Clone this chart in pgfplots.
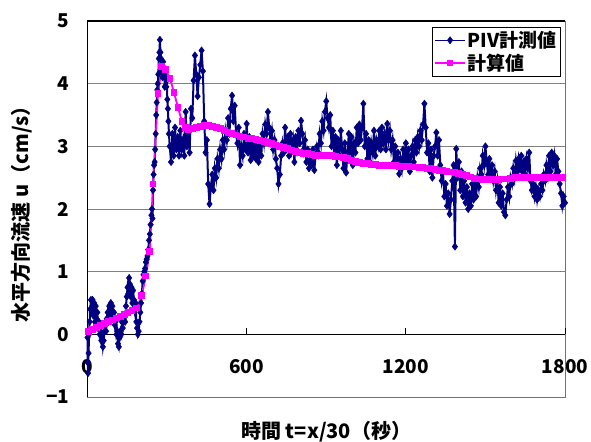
\documentclass[border=0pt]{standalone}
\usepackage{fontspec}
\setmainfont{Noto Sans CJK JP}
\usepackage{pgfplots}
\pgfplotsset{compat=1.18}
\definecolor{piv}{RGB}{0,0,128}
\definecolor{calc}{RGB}{255,0,255}
\pgfplotstableread{
t u
0 -0.05
1 -0.45
2 -0.62
4 -0.30
6 0.00
8 0.20
10 0.40
13 0.55
16 0.35
19 0.55
22 0.30
25 0.50
28 0.20
31 0.45
34 0.25
37 0.35
40 0.10
43 0.20
46 0.00
49 0.05
52 -0.10
55 -0.05
58 -0.20
61 -0.10
64 0.05
67 0.15
70 0.05
73 0.25
76 0.35
79 0.20
82 0.45
85 0.35
88 0.50
91 0.30
94 0.45
97 0.25
100 0.35
103 0.15
106 0.20
109 0.00
112 0.05
115 -0.15
118 -0.20
121 -0.05
124 0.05
127 0.00
130 0.20
133 0.10
136 0.25
139 0.30
142 0.20
145 0.45
148 0.60
151 0.75
154 0.65
157 0.90
160 0.80
163 0.60
166 0.75
169 0.50
172 0.70
175 0.55
178 0.40
181 0.50
184 0.20
187 0.10
190 0.00
193 0.05
196 0.20
199 0.35
202 0.50
205 0.65
208 0.85
211 0.95
214 1.00
217 1.05
220 1.15
223 1.20
226 1.25
229 1.35
232 1.50
235 1.60
238 1.75
241 1.90
243 2.00
245 1.85
247 2.30
249 2.55
251 2.70
253 2.75
255 2.95
257 3.20
259 3.50
261 3.70
263 3.90
265 4.00
267 4.15
269 4.40
271 4.50
273 4.70
275 4.50
277 4.40
279 4.20
281 4.30
283 4.10
285 4.35
287 4.15
289 4.25
291 3.95
293 4.10
295 4.20
297 3.95
299 4.05
301 3.75
303 3.60
305 3.40
307 3.20
310 3.00
315 2.75
320 3.20
325 2.85
330 3.30
335 2.95
340 3.15
345 2.85
350 3.25
355 2.95
360 3.10
365 2.85
370 3.55
375 3.00
380 3.20
385 2.90
390 3.60
395 3.45
400 4.05
405 4.45
410 4.15
415 3.80
420 4.10
425 4.30
430 4.53
435 4.20
440 3.40
445 2.90
450 3.10
455 2.40
460 2.08
465 2.35
470 2.55
475 2.30
480 2.65
485 2.50
490 2.80
495 2.65
500 2.95
505 2.80
510 3.10
515 2.95
520 3.25
525 3.10
530 3.45
535 3.20
540 3.60
545 3.81
550 3.40
555 3.65
560 3.20
565 3.05
570 3.30
575 2.70
580 3.00
585 2.85
590 3.20
595 2.95
600 3.36
605 2.90
610 3.15
615 2.78
620 3.05
625 2.85
630 3.10
635 2.80
640 3.00
645 2.75
650 3.05
655 2.85
660 3.20
665 3.05
670 3.35
675 3.20
680 3.55
685 3.30
690 3.10
695 3.25
700 2.95
705 3.10
710 2.80
715 2.65
720 2.40
725 2.55
730 2.85
735 3.05
740 2.90
745 3.30
750 2.95
755 3.15
760 2.85
765 3.20
770 2.95
775 3.10
780 2.75
785 3.15
790 2.90
795 3.25
800 3.05
805 3.41
810 3.20
815 2.95
820 3.10
825 2.75
830 2.95
835 2.65
840 2.90
845 2.70
850 2.95
855 2.62
860 2.85
865 3.00
870 2.90
875 3.20
880 3.05
885 3.40
890 3.25
895 3.55
900 3.72
905 3.45
910 3.30
915 3.50
920 3.00
925 3.25
930 2.85
935 3.15
940 2.70
945 3.10
950 2.85
955 3.25
960 2.95
965 2.65
970 3.05
975 2.58
980 2.90
985 3.20
990 2.80
995 3.15
1000 2.70
1005 3.05
1010 2.90
1015 3.30
1020 3.05
1025 3.35
1030 3.10
1035 3.30
1040 3.68
1045 3.00
1050 3.20
1055 2.80
1060 3.10
1065 2.75
1070 3.05
1075 2.90
1080 3.25
1085 2.85
1090 3.10
1095 3.00
1100 3.25
1105 2.95
1110 3.30
1115 3.05
1120 3.20
1125 2.95
1130 3.36
1135 3.10
1140 3.25
1145 2.95
1150 3.10
1155 2.75
1160 3.00
1165 2.70
1170 2.90
1175 2.56
1180 2.80
1185 2.65
1190 2.95
1195 2.75
1200 3.05
1205 2.70
1210 2.95
1215 2.60
1220 2.85
1225 3.00
1230 2.75
1235 3.10
1240 2.90
1245 3.15
1250 3.00
1255 3.25
1260 3.10
1265 3.35
1270 3.68
1275 3.30
1280 2.90
1285 3.05
1290 2.60
1295 2.95
1300 2.50
1305 2.85
1310 3.00
1315 3.22
1320 2.85
1325 3.10
1330 2.70
1335 2.45
1340 2.60
1345 2.20
1350 2.40
1355 2.05
1360 2.25
1365 1.92
1370 2.15
1375 2.45
1380 2.70
1385 1.40
1390 2.96
1395 2.50
1400 2.75
1405 2.30
1410 2.60
1415 2.20
1420 2.45
1425 2.10
1430 2.35
1435 2.00
1440 2.25
1445 2.05
1450 2.40
1455 2.15
1460 2.45
1465 2.20
1470 2.50
1475 2.35
1480 2.65
1485 2.55
1490 2.85
1495 2.70
1500 3.00
1505 2.75
1510 2.55
1515 2.80
1520 2.50
1525 2.70
1530 2.45
1535 2.60
1540 2.30
1545 2.45
1550 2.10
1555 2.35
1560 2.05
1565 2.25
1570 1.95
1575 1.90
1580 2.15
1585 2.35
1590 2.20
1595 2.50
1600 2.40
1605 2.65
1610 2.50
1615 2.77
1620 2.60
1625 2.80
1630 2.65
1635 2.85
1640 2.60
1645 2.75
1650 2.55
1655 2.80
1660 2.65
1665 2.90
1670 2.45
1675 2.30
1680 2.40
1685 2.20
1690 2.35
1695 2.15
1700 2.30
1705 2.20
1710 2.40
1715 2.30
1720 2.55
1725 2.45
1730 2.70
1735 2.55
1740 2.85
1745 2.60
1750 2.90
1755 2.70
1760 2.85
1765 2.55
1770 2.80
1775 2.60
1780 2.40
1785 2.25
1790 2.05
1795 2.20
1800 2.10
}\pivdata
\pgfplotstableread{
t u
3 0.05
18 0.08
33 0.11
48 0.14
63 0.17
78 0.20
93 0.23
108 0.26
123 0.29
138 0.32
153 0.35
168 0.38
185 0.42
205 0.62
220 0.93
235 1.32
247 2.40
266 3.84
280 4.28
295 4.22
311 4.08
326 3.86
341 3.62
356 3.40
368 3.30
380 3.27
395 3.28
410 3.30
425 3.32
440 3.33
455 3.33
470 3.32
485 3.30
500 3.28
515 3.25
530 3.22
545 3.20
560 3.18
575 3.16
590 3.15
605 3.13
620 3.12
635 3.11
650 3.09
665 3.08
680 3.06
695 3.04
710 3.02
725 3.00
740 2.98
755 2.96
770 2.94
785 2.92
800 2.90
815 2.89
830 2.88
845 2.87
860 2.86
875 2.86
890 2.86
905 2.85
920 2.85
935 2.84
950 2.83
965 2.82
980 2.80
995 2.78
1010 2.76
1025 2.74
1040 2.73
1055 2.72
1070 2.71
1085 2.71
1100 2.70
1115 2.70
1130 2.69
1145 2.69
1160 2.69
1175 2.68
1190 2.68
1205 2.68
1220 2.67
1235 2.67
1250 2.66
1265 2.66
1280 2.65
1295 2.64
1310 2.63
1325 2.62
1340 2.61
1355 2.60
1370 2.59
1385 2.58
1400 2.57
1415 2.55
1430 2.53
1445 2.51
1460 2.49
1475 2.48
1490 2.47
1505 2.47
1520 2.47
1535 2.47
1550 2.47
1565 2.48
1580 2.48
1595 2.49
1610 2.50
1625 2.50
1640 2.50
1655 2.50
1670 2.50
1685 2.50
1700 2.50
1715 2.50
1730 2.50
1745 2.50
1760 2.50
1775 2.50
1790 2.50
}\calcdata
\begin{document}
\begin{tikzpicture}
\useasboundingbox (-87.5bp,-45bp) rectangle (503.5bp,397bp);
\begin{axis}[
  at={(0,0)}, anchor=south west,
  scale only axis, width=477.5bp, height=376bp,
  xmin=0, xmax=1800, ymin=-1, ymax=5,
  xtick={0,600,1200,1800}, xticklabels={0,600,1200,1800},
  ytick={-1,0,1,2,3,4,5}, yticklabels={−1,0,1,2,3,4,5},
  major tick length=0pt,
  tick label style={font=\fontsize{19bp}{22bp}\selectfont\bfseries},
  xticklabel style={anchor=center, yshift=30bp},
  yticklabel style={anchor=east, xshift=-14.5bp},
  ymajorgrids, grid style={black!50, line width=0.8bp},
  axis line style={draw=none},
  clip=false,
  xlabel={時間 t=x/30（秒）},
  ylabel={水平方向流速 u（cm/s）},
  label style={font=\fontsize{20bp}{24bp}\selectfont\bfseries},
  x label style={at={(axis description cs:0.5,-0.093)}, anchor=center},
  y label style={at={(axis description cs:-0.137,0.5)}, anchor=center},
  legend style={at={(axis description cs:0.9916,0.984)}, anchor=north east,
    draw=black, line width=0.8bp, fill=white,
    font=\fontsize{19bp}{22bp}\selectfont\bfseries,
    inner sep=2bp, row sep=1bp},
  legend cell align=left,
  legend image code/.code={\draw[line width=1.2bp, mark repeat=2,mark phase=2] plot coordinates {(0bp,0bp) (15bp,0bp) (30bp,0bp)};},
]
\draw[black!55, line width=1bp] (rel axis cs:1,1) -- (rel axis cs:1,0) -- (rel axis cs:0,0);
\draw[black, line width=1.2bp] (rel axis cs:0,0) -- (rel axis cs:0,1) -- (rel axis cs:1,1);
\draw[black, line width=1.2bp] (axis cs:0,0) -- (axis cs:1800,0);
\draw[black, line width=1bp] (axis cs:600,0) -- (axis cs:600,0.1);
\draw[black, line width=1bp] (axis cs:1200,0) -- (axis cs:1200,0.1);
\draw[black, line width=1bp] (axis cs:1800,0) -- (axis cs:1800,0.1);
\addplot[color=piv, line width=2bp, mark=diamond*, mark size=3.6bp,
  mark options={solid, fill=piv, draw=piv, line width=0.5bp}] table[x=t,y=u] {\pivdata};
\addlegendentry{PIV計測値}
\addplot[color=calc, line width=1.8bp, mark=square*, mark size=2.5bp,
  mark options={solid, fill=calc, draw=calc}] table[x=t,y=u] {\calcdata};
\addlegendentry{計算値}
\end{axis}
\end{tikzpicture}
\end{document}
